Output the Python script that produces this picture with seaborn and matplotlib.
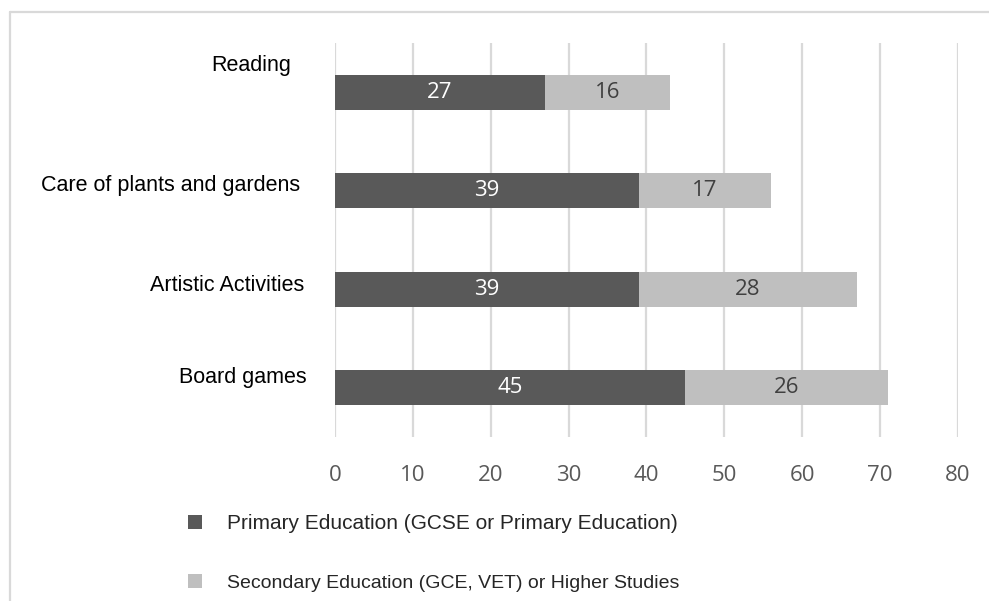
import matplotlib
matplotlib.use("Agg")
import matplotlib.pyplot as plt
import matplotlib.transforms as mtransforms
from matplotlib.lines import Line2D
import seaborn as sns
import pandas as pd

categories = ["Reading", "Care of plants and gardens", "Artistic Activities", "Board games"]
primary = [27, 39, 39, 45]
secondary = [16, 17, 28, 26]
series_names = ["Primary Education (GCSE or Primary Education)",
                "Secondary Education (GCE, VET) or Higher Studies"]
x_ticks = [0, 10, 20, 30, 40, 50, 60, 70, 80]

DARK = "#595959"
LIGHT = "#BFBFBF"
GRID = "#D9D9D9"

sns.set_theme(style="white")
plt.rcParams["font.family"] = ["Liberation Sans", "DejaVu Sans"]

df = pd.DataFrame({"cat": categories, "primary": primary, "secondary": secondary})
df["total"] = df["primary"] + df["secondary"]

W, H = 989, 601
fig = plt.figure(figsize=(W / 100, H / 100), dpi=100)
ax = fig.add_axes([335 / W, 1 - 437 / H, (957.7 - 335) / W, 394 / H])

sns.barplot(data=df, x="total", y="cat", color=LIGHT, width=0.36, ax=ax,
            saturation=1, label=series_names[1], zorder=3, linewidth=0)
sns.barplot(data=df, x="primary", y="cat", color=DARK, width=0.36, ax=ax,
            saturation=1, label=series_names[0], zorder=4, linewidth=0)
if ax.get_legend() is not None:
    ax.get_legend().remove()

ax.set_xlim(x_ticks[0], x_ticks[-1])
ax.set_ylim(len(categories) - 0.5, -0.5)
ax.set_xticks(x_ticks)
ax.set_xticklabels([str(t) for t in x_ticks], fontfamily="Open Sans",
                   fontsize=16, color="#595959")
ax.tick_params(axis="x", length=0, pad=20)
ax.set_yticks([])
ax.set_xlabel("")
ax.set_ylabel("")
for s in ax.spines.values():
    s.set_visible(False)
ax.grid(axis="x", color=GRID, linewidth=1.6, zorder=0)
ax.set_axisbelow(True)

# value labels
for i, (p, s) in enumerate(zip(primary, secondary)):
    ax.text(p / 2, i, str(p), ha="center", va="center", color="white",
            fontfamily="Open Sans", fontsize=16, zorder=5)
    ax.text(p + s / 2, i, str(s), ha="center", va="center", color="#404040",
            fontfamily="Open Sans", fontsize=16, zorder=5)

# category labels (offsets in pixels relative to axis left / bar centre)
label_offsets = [(-44, 27), (-35, 5), (-31, 4), (-28, 10)]
blend = mtransforms.blended_transform_factory(ax.transAxes, ax.transData)
for i, (cat, (dx, dy)) in enumerate(zip(categories, label_offsets)):
    tr = blend + mtransforms.ScaledTranslation(dx / 100, dy / 100, fig.dpi_scale_trans)
    ax.text(0, i, cat, ha="right", va="center", transform=tr,
            fontsize=15.5, color="black")

# legend
handles, labels = ax.get_legend_handles_labels()
order = [labels.index(n) for n in series_names]
leg = fig.legend([handles[k] for k in order], [labels[k] for k in order],
                 loc="upper left", bbox_to_anchor=(188 / W, 1 - 514 / H),
                 frameon=False, fontsize=15, handlelength=0.68,
                 handleheight=0.68, handletextpad=1.2, labelspacing=1.95,
                 borderpad=0, borderaxespad=0)
leg.get_texts()[1].set_fontsize(14)

# outer frame lines (top and left)
fig.add_artist(Line2D([10 / W, 1], [1 - 12 / H, 1 - 12 / H], color=GRID,
                      linewidth=1.6, transform=fig.transFigure))
fig.add_artist(Line2D([10 / W, 10 / W], [1 - 12 / H, 0], color=GRID,
                      linewidth=1.6, transform=fig.transFigure))

fig.savefig("out.png", dpi=100, facecolor="white")
